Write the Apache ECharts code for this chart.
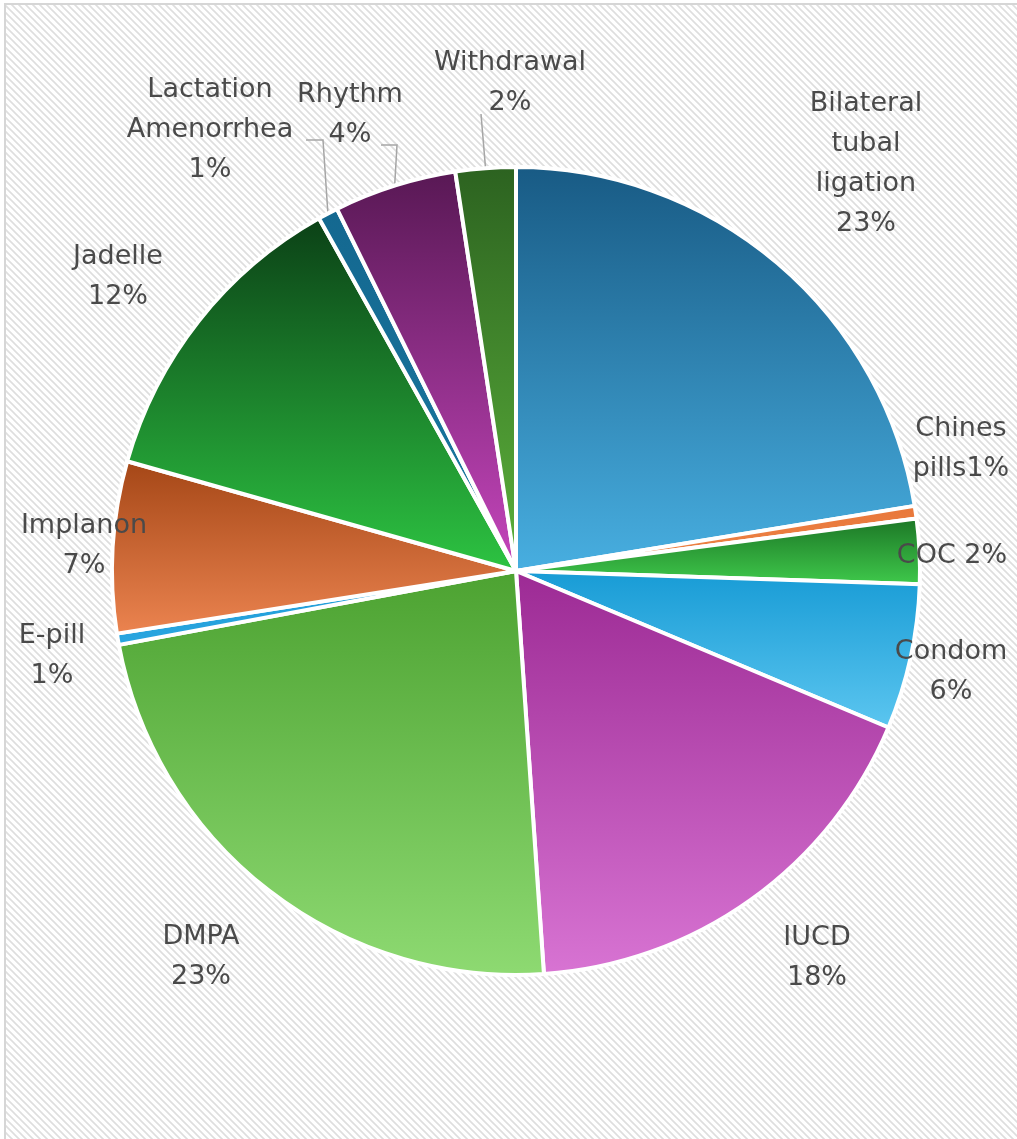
<!DOCTYPE html>
<html><head><meta charset="utf-8">
<script src="https://cdn.jsdelivr.net/npm/echarts@6/dist/echarts.min.js"></script>
<style>html,body{margin:0;padding:0;background:#fff}#c{width:1017px;height:1139px}</style>
</head><body><div id="c"></div>
<script>
// ---- data ----
const categories = ['Bilateral tubal ligation','Chines pills','COC','Condom','IUCD','DMPA','E-pill','Implanon','Jadelle','Lactation Amenorrhea','Rhythm','Withdrawal'];
const values = [22.4, 0.5, 2.6, 5.8, 17.55, 23.15, 0.45, 6.85, 12.5, 0.8, 4.9, 2.4];
const pctLabels = ['23%','1%','2%','6%','18%','23%','1%','7%','12%','1%','4%','2%'];

// ---- styling ----
const labelNames = ['Bilateral\ntubal\nligation','Chines\npills','COC','Condom','IUCD','DMPA','E-pill','Implanon','Jadelle','Lactation\nAmenorrhea','Rhythm','Withdrawal'];
const labelSep = ['\n','','\u0020','\n','\n','\n','\n','\n','\n','\n','\n','\n'];
const topColors = ['#185a84','#e8773a','#1b7425','#179bd5','#9c2a94','#4ca231','#1e9ad6','#a44616','#0b4016','#146890','#581854','#2c6220'];
const bottomColors = ['#48afe1','#ee8548','#40cb4c','#5cc6f0','#d874d3','#8eda72','#2aa6e0','#ec8450','#2dc442','#1a78a0','#c646bd','#5cb23b'];
const labelX = [866, 961, 952, 951, 817, 201, 52, 84, 118, 210, 350, 510];
const labelY = [164, 449, 556, 672, 958, 957, 656, 546, 277, 130, 115, 83];
const leader = {9: [[323,140],[306,140]], 10: [[397,145],[381,145]], 11: [[481,114]]};

// background hatch tile
const tile = document.createElement('canvas');
tile.width = 7; tile.height = 7;
const tc = tile.getContext('2d');
tc.fillStyle = '#ffffff'; tc.fillRect(0,0,7,7);
tc.strokeStyle = '#dedede'; tc.lineWidth = 1.6;
tc.beginPath();
tc.moveTo(-1,-1); tc.lineTo(8,8);
tc.moveTo(-8,-1); tc.lineTo(1,8);
tc.moveTo(6,-1); tc.lineTo(15,8);
tc.stroke();

const chart = echarts.init(document.getElementById('c'), null, {renderer:'canvas'});
const data = categories.map((name, i) => ({
  name: name,
  value: values[i],
  itemStyle: {
    color: {type:'linear', x:0, y:0, x2:0, y2:1, colorStops:[{offset:0,color:topColors[i]},{offset:1,color:bottomColors[i]}]}
  },
  labelLine: {show: !!leader[i]}
}));

chart.setOption({
  animation: false,
  graphic: [{
    type: 'rect', z: -10, silent: true,
    shape: {x: 5, y: 4, width: 1040, height: 1160},
    style: {fill: {image: tile, repeat: 'repeat'}, stroke: '#d6d6d6', lineWidth: 2}
  }],
  series: [{
    type: 'pie',
    center: [516, 571],
    radius: [0, 404],
    startAngle: 90,
    clockwise: true,
    avoidLabelOverlap: false,
    itemStyle: {borderColor: '#ffffff', borderWidth: 4},
    label: {
      show: true,
      position: 'outside',
      formatter: p => labelNames[p.dataIndex] + labelSep[p.dataIndex] + pctLabels[p.dataIndex],
      fontFamily: 'DejaVu Sans',
      fontSize: 27,
      lineHeight: 40,
      color: '#4a4a4a',
      align: 'center'
    },
    labelLine: {show: true, lineStyle: {color: '#a6a6a6', width: 1.5}, length: 10, length2: 10},
    labelLayout: function (p) {
      const i = p.dataIndex;
      const out = {x: labelX[i], y: labelY[i], align: 'center', verticalAlign: 'middle'};
      if (leader[i] && p.labelLinePoints) {
        out.labelLinePoints = [p.labelLinePoints[0]].concat(leader[i]);
      }
      return out;
    },
    data: data
  }]
});
</script>
</body></html>
